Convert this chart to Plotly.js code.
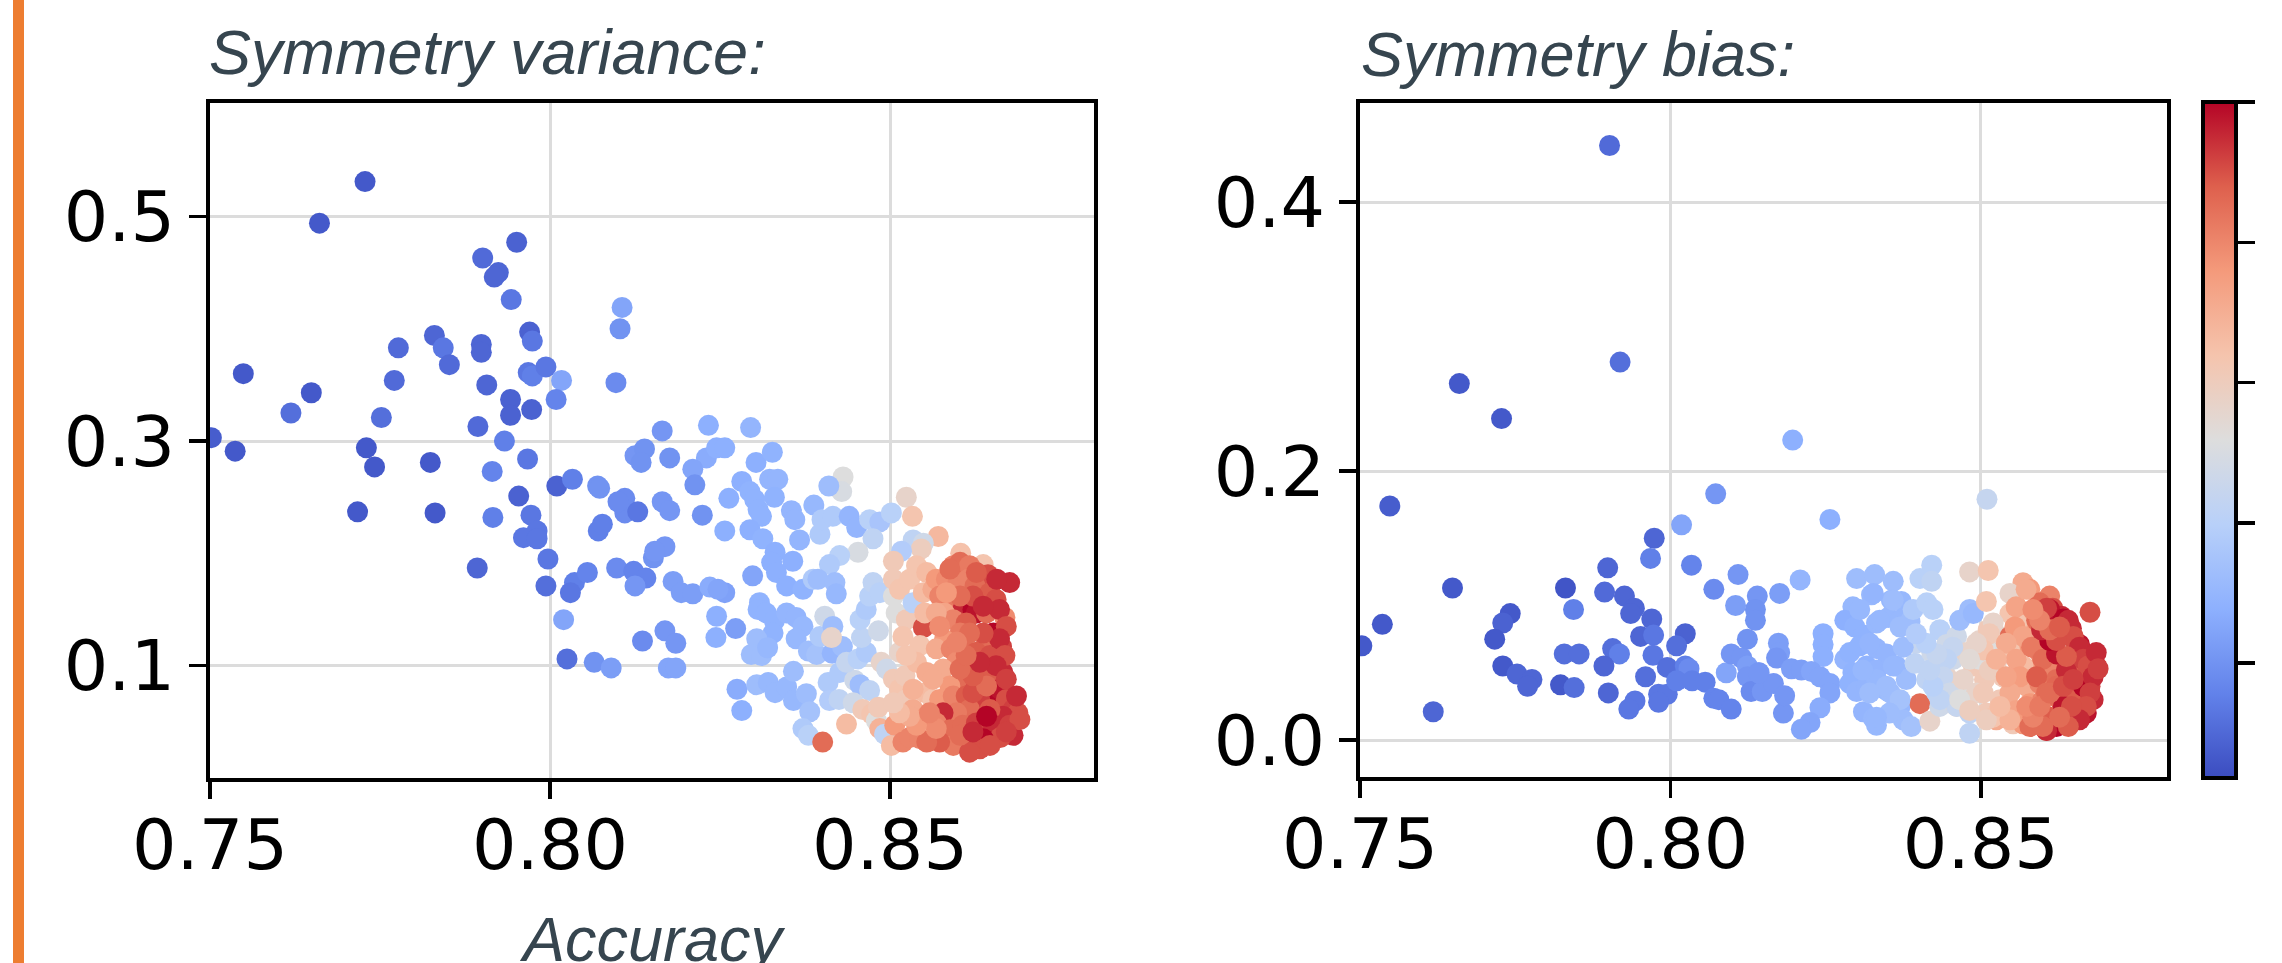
<!DOCTYPE html>
<html>
<head>
<meta charset="utf-8">
<script src="https://cdn.plot.ly/plotly-3.0.1.min.js"></script>
<style>html,body{margin:0;padding:0;background:#fff;}#chart{width:2282px;height:963px;}</style>
</head>
<body>
<div id="chart"></div>
<script>
// ---------- Data: Symmetry variance panel ----------
const varAcc = [
0.7728,0.7661,0.7951,0.7901,0.7924,0.7918,0.7943,0.8106,0.8103,0.7970,0.7974,0.7830,0.7843,0.7777,0.7852,0.7899,0.7899,0.7549,0.7771,0.7649,
0.7619,0.7752,0.7907,0.7968,0.7974,0.7994,0.8017,0.8097,0.7942,0.7942,0.7973,0.8009,0.7894,0.7933,0.7502,0.7537,0.7730,0.7742,0.7824,0.7967,
0.7915,0.8010,0.8033,0.8070,0.8073,0.7954,0.7717,0.7831,0.7916,0.7972,0.7961,0.7981,0.7981,0.7997,0.7893,0.7994,0.8036,0.8030,0.8055,0.8020,
0.8025,0.8065,0.8090,0.8098,0.8123,0.8141,0.8125,0.8136,0.8110,0.8110,0.8129,0.8100,0.8071,0.8077,0.8125,0.8139,0.8134,0.8152,
0.8165,0.8233,0.8295,0.8176,0.8230,0.8245,0.8257,0.8210,0.8213,0.8303,0.8327,0.8323,0.8335,0.8282,0.8431,0.8429,0.8410,0.8524,0.8533,0.8571,
0.8604,0.8637,
0.8165,0.8176,0.8224,0.8263,0.8257,0.8294,0.8301,0.8306,0.8311,0.8294,0.8313,0.8330,0.8355,0.8360,0.8367,0.8388,0.8397,0.8400,0.8416,0.8440,
0.8451,0.8470,0.8485,0.8502,0.8534,0.8549,0.8546,0.8517,0.8505,0.8475,0.8453,0.8426,0.8411,0.8357,0.8331,0.8326,0.8169,0.8154,0.8181,0.8193,
0.8210,0.8235,0.8257,0.8247,0.8298,0.8333,0.8348,0.8372,0.8387,0.8394,0.8419,0.8421,
0.8308,0.8306,0.8245,0.8273,0.8244,0.8169,0.8185,0.8174,0.8185,0.8318,0.8330,0.8348,0.8362,0.8372,0.8362,0.8328,0.8304,0.8296,0.8311,0.8320,
0.8380,0.8392,0.8397,0.8404,0.8416,0.8415,0.8430,0.8414,0.8275,0.8282,0.8304,0.8321,0.8331,0.8348,0.8358,0.8358,0.8377,0.8382,0.8372,0.8380,
0.8401,0.8409,0.8411,0.8426,0.8425,0.8436,0.8448,0.8456,0.8470,0.8446,0.8460,0.8473,0.8480,0.8483,0.8485,0.8492,0.8502,0.8507,0.8519,0.8529,
0.8544,0.8558,0.8573,0.8436,0.8453,0.8465,0.8458,0.8456,0.8465,0.8470,0.8475,0.8485,0.8483,0.8487,0.8495,0.8505,0.8514,0.8524,0.8534,0.8522,
0.8514,0.8509,0.8524,0.8519,0.8505,0.8505,0.8514,0.8534,0.8529,0.8539,0.8554,0.8549,0.8549,0.8551,0.8544,0.8539,0.8554,0.8551,0.8554,0.8563,
0.8563,0.8568,
0.8593,0.8603,0.8617,0.8644,0.8676,0.8583,0.8600,0.8615,0.8625,0.8647,0.8656,0.8573,0.8590,0.8607,0.8622,0.8627,0.8642,0.8669,0.8580,0.8593,
0.8612,0.8652,0.8664,0.8642,0.8603,0.8580,0.8568,0.8590,0.8608,0.8627,0.8647,0.8622,0.8598,0.8578,0.8666,0.8642,0.8607,0.8588,0.8627,0.8652,
0.8662,0.8573,0.8593,0.8612,0.8632,0.8671,0.8681,0.8688,0.8666,0.8647,0.8617,0.8598,0.8578,0.8568,0.8588,0.8607,0.8627,0.8652,0.8676,0.8681,
0.8662,0.8637,0.8617,0.8593,0.8573,0.8554,0.8632,
0.8588,0.8627,0.8657,0.8661,0.8671,0.8661,0.8669,0.8656,0.8671,0.8686,0.8691,0.8671,0.8647,0.8617,0.8603,0.8622,0.8642,0.8622,0.8642,0.8622,
0.8603,0.8632,0.8612,0.8637,0.8617,0.8598,0.8622,0.8603,0.8637,0.8583,0.8568,0.8573,0.8563,0.8568,0.8539,0.8529,0.8514,0.8505,0.8534,0.8524,
0.8558
];
const varValue = [
0.531,0.494,0.477,0.463,0.450,0.446,0.426,0.419,0.400,0.397,0.389,0.394,0.383,0.383,0.368,0.386,0.379,0.360,0.354,0.343,
0.325,0.321,0.350,0.361,0.358,0.366,0.354,0.352,0.337,0.323,0.328,0.337,0.313,0.300,0.303,0.291,0.294,0.277,0.281,0.284,
0.273,0.260,0.266,0.260,0.258,0.251,0.237,0.236,0.232,0.234,0.214,0.220,0.213,0.195,0.187,0.171,0.174,0.165,0.183,0.141,
0.106,0.103,0.098,0.187,0.184,0.178,0.171,0.122,0.249,0.236,0.237,0.246,0.220,0.226,0.287,0.293,0.281,0.196,
0.309,0.314,0.312,0.285,0.285,0.294,0.294,0.275,0.261,0.281,0.290,0.266,0.266,0.264,0.268,0.255,0.260,0.250,0.233,0.215,
0.200,0.190,
0.246,0.238,0.234,0.249,0.220,0.255,0.248,0.239,0.233,0.221,0.213,0.250,0.238,0.230,0.212,0.243,0.217,0.230,0.233,0.233,
0.223,0.230,0.228,0.236,0.212,0.209,0.204,0.202,0.193,0.213,0.201,0.198,0.190,0.193,0.201,0.192,0.206,0.202,0.175,0.165,
0.164,0.170,0.165,0.168,0.180,0.183,0.171,0.168,0.177,0.177,0.174,0.164,
0.156,0.150,0.144,0.133,0.125,0.131,0.120,0.098,0.098,0.147,0.140,0.147,0.143,0.135,0.124,0.129,0.124,0.110,0.109,0.116,
0.113,0.110,0.126,0.144,0.135,0.111,0.117,0.125,0.079,0.060,0.083,0.085,0.076,0.081,0.095,0.069,0.075,0.059,0.044,0.038,
0.032,0.085,0.069,0.094,0.070,0.048,0.087,0.083,0.078,0.067,0.061,0.057,0.051,0.063,0.044,0.039,0.029,0.047,0.032,0.036,
0.035,0.033,0.038,0.103,0.106,0.112,0.125,0.141,0.150,0.162,0.174,0.165,0.131,0.103,0.097,0.088,0.079,0.070,0.061,0.091,
0.112,0.147,0.141,0.126,0.162,0.177,0.168,0.156,0.177,0.189,0.183,0.165,0.134,0.147,0.118,0.103,0.094,0.076,0.055,0.070,
0.168,0.177,
0.189,0.192,0.189,0.181,0.174,0.177,0.174,0.177,0.171,0.165,0.159,0.162,0.159,0.150,0.150,0.147,0.147,0.143,0.147,0.141,
0.138,0.129,0.117,0.121,0.129,0.123,0.115,0.115,0.118,0.112,0.109,0.100,0.103,0.097,0.094,0.091,0.088,0.082,0.082,0.076,
0.079,0.070,0.073,0.073,0.070,0.070,0.061,0.058,0.055,0.061,0.061,0.058,0.058,0.049,0.043,0.047,0.049,0.047,0.047,0.038,
0.036,0.035,0.029,0.029,0.032,0.032,0.026,
0.186,0.183,0.177,0.150,0.135,0.124,0.109,0.100,0.088,0.073,0.052,0.041,0.029,0.023,0.038,0.041,0.055,0.076,0.082,0.091,
0.097,0.103,0.109,0.129,0.129,0.121,0.162,0.162,0.153,0.165,0.147,0.135,0.088,0.044,0.047,0.055,0.058,0.067,0.079,0.109,
0.058
];
const varScore = [
0.03,0.03,0.05,0.07,0.06,0.06,0.10,0.22,0.17,0.05,0.10,0.06,0.10,0.07,0.07,0.06,0.06,0.03,0.07,0.03,
0.08,0.08,0.06,0.10,0.12,0.10,0.22,0.15,0.05,0.05,0.05,0.13,0.07,0.12,0.04,0.03,0.03,0.03,0.03,0.10,
0.13,0.05,0.12,0.17,0.17,0.05,0.03,0.03,0.12,0.10,0.10,0.10,0.10,0.10,0.06,0.08,0.12,0.10,0.13,0.22,
0.08,0.17,0.20,0.15,0.13,0.13,0.18,0.15,0.15,0.15,0.10,0.15,0.12,0.12,0.18,0.17,0.17,0.17,
0.18,0.25,0.27,0.17,0.24,0.25,0.25,0.22,0.17,0.25,0.26,0.27,0.27,0.25,0.50,0.48,0.30,0.55,0.62,0.66,
0.63,0.62,
0.18,0.18,0.17,0.25,0.25,0.26,0.26,0.26,0.26,0.25,0.26,0.26,0.27,0.27,0.27,0.28,0.35,0.35,0.35,0.27,
0.27,0.38,0.33,0.38,0.40,0.45,0.58,0.36,0.60,0.40,0.48,0.38,0.35,0.25,0.25,0.25,0.18,0.18,0.20,0.20,
0.20,0.24,0.21,0.22,0.22,0.25,0.25,0.26,0.35,0.30,0.30,0.28,
0.26,0.26,0.25,0.20,0.25,0.18,0.18,0.22,0.22,0.26,0.26,0.27,0.27,0.28,0.28,0.26,0.30,0.30,0.30,0.28,
0.30,0.32,0.35,0.45,0.30,0.27,0.30,0.55,0.24,0.25,0.30,0.28,0.28,0.28,0.30,0.28,0.30,0.32,0.35,0.38,
0.85,0.35,0.36,0.35,0.40,0.65,0.45,0.30,0.40,0.45,0.60,0.62,0.50,0.60,0.68,0.40,0.65,0.75,0.80,0.80,
0.80,0.85,0.90,0.42,0.38,0.35,0.40,0.38,0.35,0.38,0.40,0.38,0.45,0.55,0.45,0.60,0.62,0.60,0.70,0.60,
0.55,0.50,0.60,0.62,0.50,0.60,0.62,0.38,0.62,0.62,0.65,0.65,0.90,0.65,0.62,0.65,0.70,0.65,0.75,0.62,
0.70,0.75,
0.80,0.85,0.82,0.90,0.95,0.78,0.80,0.80,0.85,0.88,0.90,0.80,0.82,0.95,1.00,0.98,0.85,0.78,0.72,0.80,
0.88,1.00,0.92,0.85,0.82,0.75,0.70,0.80,0.85,0.88,0.90,0.95,0.78,0.70,0.95,0.88,0.85,0.75,0.90,1.00,
0.98,0.75,0.80,0.88,0.92,0.90,0.92,0.90,0.95,0.88,0.85,0.82,0.95,0.80,0.85,0.85,0.92,0.95,0.92,0.95,
0.90,1.00,0.82,0.82,0.88,0.85,0.90,
0.85,0.88,0.95,0.95,0.90,0.95,0.90,0.95,0.92,0.95,0.90,0.92,0.90,0.90,0.85,0.95,1.00,0.90,0.85,0.88,
0.85,0.95,0.85,0.90,0.85,0.80,0.90,0.85,0.95,0.75,0.70,0.78,0.70,0.78,0.75,0.70,0.65,0.60,0.68,0.62,
0.80
];

// ---------- Data: Symmetry bias panel ----------
const biasAcc = [
0.7902,0.7919,0.7660,0.7728,0.7548,0.8073,0.8018,0.7974,0.7968,0.7899,0.8034,0.7649,0.7831,0.7894,0.8070,0.8109,0.8140,0.8105,0.8137,0.8137,
0.7926,0.7942,0.7936,0.7970,0.7952,0.7973,0.8024,0.8010,0.7844,0.7742,0.7730,0.7536,0.7503,0.7717,0.7730,0.7753,0.7777,0.7770,0.7823,0.7845,
0.7829,0.7853,0.7907,0.7918,0.7893,0.7900,0.7972,0.7995,0.7960,0.7943,0.7933,0.7981,0.7995,0.7981,0.7618,0.8024,0.8030,0.8010,0.8035,0.8056,
0.8070,0.8078,0.8098,0.8090,0.8098,0.8115,0.8124,0.8124,0.8130,0.8143,0.8148,0.8124,0.8197,0.8510,
0.8257,0.8176,0.8209,0.8174,0.8176,0.8171,0.8246,0.8246,0.8246,0.8195,0.8211,0.8227,0.8241,0.8257,0.8257,0.8241,0.8225,0.8211,0.8182,0.8166,
0.8142,0.8184,0.8281,0.8294,0.8300,0.8329,0.8324,0.8359,0.8281,0.8297,0.8311,0.8332,0.8356,0.8372,0.8351,0.8370,0.8386,0.8391,0.8402,0.8421,
0.8421,0.8413,0.8423,0.8289,0.8305,0.8332,0.8348,0.8364,0.8316,0.8332,0.8294,0.8289,0.8300,0.8316,0.8332,0.8348,0.8311,0.8327,0.8332,0.8354,
0.8370,0.8375,0.8388,0.8380,0.8394,0.8396,0.8402,0.8418,0.8413,0.8421,0.8434,0.8434,0.8445,0.8429,0.8434,0.8445,0.8456,0.8461,0.8466,0.8482,
0.8488,0.8482,0.8512,0.8509,0.8466,0.8461,0.8482,0.8482,0.8477,0.8488,0.8498,0.8512,0.8506,0.8493,0.8509,0.8525,0.8531,0.8536,0.8525,0.8541,
0.8531,0.8547,0.8558,0.8568,0.8579,0.8611,0.8616,0.8630,0.8643,0.8676,0.8600,0.8584,0.8574,0.8547,0.8563,0.8579,0.8595,0.8617,0.8654,0.8670,
0.8686,0.8649,0.8627,0.8606,0.8584,0.8568,0.8558,0.8574,0.8595,0.8622,0.8654,0.8676,0.8676,0.8659,0.8643,0.8617,0.8606,0.8584,0.8563,0.8552,
0.8579,0.8600,0.8627,0.8649,0.8595,0.8606,0.8547,0.8558,0.8520,0.8520,0.8498,
0.8370,0.8375,0.8359,0.8348,0.8370,0.8353,0.8332,0.8321,0.8310,0.8321,0.8337,0.8359,0.8327,0.8305,
0.8455,0.8445,0.8439,0.8450,0.8461,0.8434,0.8423,0.8418,0.8429,0.8412,0.8396,
0.8514,0.8504,0.8514,0.8504,0.8520,0.8509,0.8493,0.8482,0.8472,0.8466,0.8482,
0.8557,0.8573,0.8555,0.8568,0.8541,0.8557,0.8563,0.8547,0.8557,0.8568,0.8547,0.8531,0.8525,0.8541,
0.8590,0.8582,0.8600,0.8590,0.8606,0.8590,0.8611,0.8579,0.8654,0.8659,0.8622,0.8643,
0.8611,0.8633,0.8646,0.8659,0.8670,0.8686,0.8665,0.8681,0.8670,0.8643,0.8622,0.8606,0.8633,0.8638,0.8622,0.8611,0.8598,
0.8606,0.8641,0.8649,0.8659,0.8665,0.8673,0.8681,0.8676,0.8670,0.8659,0.8641,0.8600,0.8584,0.8574,0.8595,0.8611,0.8633,0.8649,0.8638,0.8622,
0.8611,0.8595,0.8584,0.8627,0.8686,0.8689,0.8646,0.8627
];
const biasValue = [
0.442,0.281,0.265,0.239,0.174,0.183,0.160,0.150,0.135,0.128,0.130,0.113,0.113,0.110,0.112,0.123,0.107,0.100,0.097,0.089,
0.107,0.098,0.094,0.090,0.077,0.078,0.079,0.070,0.097,0.094,0.087,0.086,0.070,0.075,0.055,0.049,0.045,0.040,0.041,0.039,
0.064,0.064,0.068,0.064,0.055,0.035,0.063,0.054,0.047,0.029,0.023,0.034,0.034,0.028,0.021,0.055,0.053,0.044,0.044,0.043,
0.031,0.030,0.023,0.050,0.064,0.061,0.055,0.047,0.036,0.050,0.036,0.075,0.223,0.179,
0.164,0.109,0.119,0.072,0.065,0.061,0.079,0.071,0.062,0.053,0.052,0.051,0.047,0.042,0.035,0.024,0.013,0.008,0.020,0.042,
0.050,0.033,0.060,0.099,0.120,0.123,0.108,0.118,0.089,0.084,0.078,0.087,0.104,0.103,0.091,0.089,0.088,0.097,0.120,0.130,
0.118,0.102,0.097,0.065,0.070,0.068,0.064,0.055,0.055,0.052,0.050,0.042,0.036,0.040,0.045,0.037,0.021,0.016,0.011,0.035,
0.025,0.015,0.010,0.045,0.057,0.072,0.027,0.014,0.045,0.065,0.057,0.082,0.071,0.035,0.025,0.047,0.060,0.077,0.089,0.097,
0.094,0.125,0.126,0.103,0.035,0.025,0.020,0.005,0.065,0.055,0.074,0.082,0.045,0.035,0.020,0.015,0.030,0.047,0.057,0.065,
0.077,0.094,0.099,0.117,0.112,0.107,0.098,0.092,0.083,0.095,0.082,0.087,0.092,0.077,0.072,0.070,0.065,0.070,0.071,0.062,
0.055,0.055,0.057,0.055,0.052,0.055,0.045,0.040,0.042,0.045,0.047,0.040,0.030,0.022,0.015,0.017,0.007,0.012,0.020,0.012,
0.027,0.030,0.030,0.035,0.102,0.092,0.109,0.087,0.065,0.087,0.060,
0.084,0.069,0.055,0.040,0.030,0.020,0.017,0.035,0.052,0.072,0.089,0.104,0.109,0.097,
0.069,0.060,0.047,0.035,0.025,0.030,0.040,0.052,0.064,0.072,0.079,
0.079,0.067,0.052,0.035,0.017,0.015,0.072,0.060,0.045,0.030,0.022,
0.099,0.112,0.084,0.077,0.072,0.060,0.047,0.035,0.022,0.012,0.015,0.025,0.060,0.047,
0.089,0.069,0.060,0.047,0.035,0.022,0.017,0.010,0.017,0.060,0.040,0.035,
0.097,0.090,0.083,0.071,0.060,0.055,0.040,0.030,0.020,0.012,0.010,0.007,0.025,0.052,0.064,0.074,0.082,
0.098,0.089,0.077,0.069,0.060,0.055,0.047,0.035,0.025,0.015,0.010,0.010,0.017,0.025,0.025,0.035,0.040,0.045,0.062,0.074,
0.082,0.089,0.097,0.084,0.065,0.053,0.025,0.017
];
const biasScore = [
0.07,0.08,0.03,0.03,0.04,0.18,0.22,0.06,0.12,0.06,0.13,0.03,0.02,0.07,0.15,0.18,0.18,0.20,0.17,0.17,
0.06,0.06,0.06,0.06,0.06,0.10,0.05,0.08,0.12,0.03,0.05,0.03,0.03,0.03,0.03,0.06,0.06,0.06,0.03,0.08,
0.08,0.08,0.08,0.12,0.06,0.06,0.10,0.08,0.08,0.10,0.10,0.10,0.10,0.10,0.06,0.12,0.15,0.12,0.12,0.12,
0.13,0.13,0.13,0.22,0.18,0.18,0.20,0.18,0.15,0.20,0.18,0.17,0.25,0.42,
0.25,0.20,0.27,0.20,0.20,0.18,0.25,0.25,0.25,0.20,0.20,0.22,0.22,0.22,0.22,0.24,0.22,0.22,0.18,0.18,
0.18,0.18,0.27,0.28,0.30,0.30,0.28,0.30,0.25,0.26,0.26,0.28,0.28,0.28,0.28,0.28,0.30,0.35,0.38,0.38,
0.40,0.38,0.38,0.26,0.26,0.27,0.27,0.28,0.26,0.27,0.26,0.26,0.27,0.27,0.28,0.28,0.27,0.28,0.28,0.30,
0.28,0.30,0.32,0.30,0.40,0.42,0.85,0.55,0.40,0.45,0.35,0.38,0.45,0.40,0.45,0.55,0.45,0.45,0.30,0.30,
0.28,0.55,0.62,0.62,0.50,0.55,0.40,0.40,0.55,0.60,0.55,0.60,0.60,0.55,0.60,0.70,0.60,0.60,0.58,0.62,
0.55,0.62,0.75,0.70,0.75,0.80,0.90,0.95,0.85,0.90,0.80,0.75,0.70,0.85,0.62,0.75,0.78,0.85,0.90,0.95,
0.90,0.95,0.88,0.80,0.75,0.65,0.75,0.70,0.80,0.85,0.90,0.92,0.90,0.90,0.88,0.80,0.85,0.72,0.62,0.60,
0.75,0.80,0.85,0.88,0.85,0.88,0.55,0.62,0.50,0.55,0.50,
0.30,0.30,0.28,0.30,0.32,0.30,0.28,0.30,0.28,0.27,0.28,0.30,0.27,0.28,
0.42,0.40,0.42,0.45,0.42,0.40,0.38,0.40,0.42,0.38,0.36,
0.60,0.62,0.58,0.60,0.62,0.58,0.55,0.52,0.55,0.50,0.58,
0.72,0.70,0.75,0.72,0.70,0.72,0.74,0.70,0.72,0.75,0.68,0.65,0.68,0.72,
0.85,0.82,0.85,0.88,0.85,0.82,0.88,0.85,0.90,0.88,0.86,0.88,
0.98,1.00,0.95,0.98,0.95,0.92,1.00,0.95,0.98,0.95,1.00,0.95,0.98,0.95,0.98,1.00,0.95,
0.92,0.95,0.90,0.95,0.92,0.90,0.95,0.92,0.90,0.95,0.88,0.85,0.80,0.78,0.82,0.85,0.90,0.92,0.88,0.90,
0.85,0.80,0.78,0.88,0.95,0.92,0.90,0.85
];

// ---------- Styling ----------
const coolwarm = [
  [0.0,'#3b4cc0'],[0.125,'#6282ea'],[0.25,'#8db0fe'],[0.375,'#b8d0f9'],
  [0.5,'#dddddd'],[0.625,'#f5c4ad'],[0.75,'#f49a7b'],[0.875,'#de604d'],[1.0,'#b40426']
];
const W = 2282, H = 963;
const px = v => v / W;
const py = v => 1 - v / H;
const tickFont = {family: 'DejaVu Sans', size: 70, color: '#000'};
const titleFont = {family: 'Liberation Sans, Arial, sans-serif', size: 63, color: '#36454f', style: 'italic'};
const markerSize = 21;

const traceVar = {
  type: 'scatter', mode: 'markers', x: varAcc, y: varValue, xaxis: 'x', yaxis: 'y',
  marker: {size: markerSize, color: varScore, colorscale: coolwarm, cmin: 0, cmax: 1, line: {width: 0}, showscale: false},
  hoverinfo: 'skip'
};
const traceBias = {
  type: 'scatter', mode: 'markers', x: biasAcc, y: biasValue, xaxis: 'x2', yaxis: 'y2',
  marker: {size: markerSize, color: biasScore, colorscale: coolwarm, cmin: 0, cmax: 1, line: {width: 0}, showscale: true,
    colorbar: {
      thickness: 33, thicknessmode: 'pixels', len: 676, lenmode: 'pixels',
      x: px(2203), xanchor: 'left', xpad: 0, xref: 'paper',
      y: py(440), yanchor: 'middle', ypad: 0, yref: 'paper',
      outlinewidth: 4, outlinecolor: '#000', borderwidth: 0,
      ticks: 'outside', ticklen: 17, tickwidth: 3.5, tickcolor: '#000',
      tickmode: 'array', tickvals: [0.17, 0.3775, 0.585, 0.7925, 1.0], showticklabels: false
    }},
  hoverinfo: 'skip'
};

const axBase = {
  showline: true, linewidth: 4, linecolor: '#000', mirror: true,
  showgrid: true, gridcolor: '#dcdcdc', gridwidth: 3, zeroline: false,
  ticks: 'outside', ticklen: 17, tickwidth: 3.5, tickcolor: '#000',
  tickfont: tickFont, tickmode: 'array', fixedrange: true
};
const xTickVals = [0.75, 0.80, 0.85];
const xTickText = ['0.75', '0.80', '0.85'];

const layout = {
  width: W, height: H, margin: {l: 0, r: 0, t: 0, b: 0},
  paper_bgcolor: '#fff', plot_bgcolor: '#fff', showlegend: false,
  xaxis: Object.assign({}, axBase, {domain: [px(210), px(1094)], range: [0.75, 0.88], anchor: 'y',
    tickvals: xTickVals, ticktext: xTickText, ticklabelstandoff: -14}),
  yaxis: Object.assign({}, axBase, {domain: [py(778), py(103)], range: [0.0, 0.601], anchor: 'x',
    tickvals: [0.1, 0.3, 0.5], ticktext: ['0.1', '0.3', '0.5']}),
  xaxis2: Object.assign({}, axBase, {domain: [px(1360), px(2167)], range: [0.75, 0.88], anchor: 'y2',
    tickvals: xTickVals, ticktext: xTickText, ticklabelstandoff: -14}),
  yaxis2: Object.assign({}, axBase, {domain: [py(777), py(103)], range: [-0.0275, 0.4736], anchor: 'x2',
    tickvals: [0.0, 0.2, 0.4], ticktext: ['0.0', '0.2', '0.4']}),
  shapes: [
    {type: 'rect', xref: 'paper', yref: 'paper', x0: px(13), x1: px(24), y0: 0, y1: 1,
     fillcolor: '#ED7D31', line: {width: 0}, layer: 'above'}
  ],
  annotations: [
    {text: 'Symmetry variance:', xref: 'paper', yref: 'paper', x: px(207), y: py(52),
     xanchor: 'left', yanchor: 'middle', showarrow: false, font: titleFont},
    {text: 'Symmetry bias:', xref: 'paper', yref: 'paper', x: px(1359), y: py(54),
     xanchor: 'left', yanchor: 'middle', showarrow: false, font: titleFont},
    {text: 'Accuracy', xref: 'paper', yref: 'paper', x: px(652), y: py(939),
     xanchor: 'center', yanchor: 'middle', showarrow: false, font: titleFont}
  ]
};

Plotly.newPlot('chart', [traceVar, traceBias], layout, {staticPlot: true, displayModeBar: false});
</script>
</body>
</html>
